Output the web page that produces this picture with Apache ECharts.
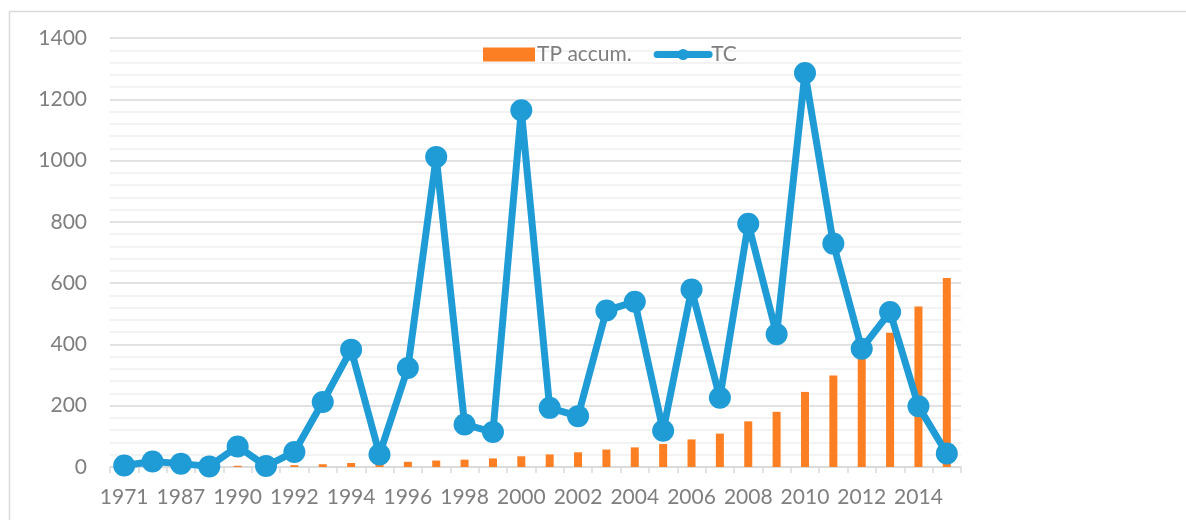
<!DOCTYPE html>
<html>
<head>
<meta charset="utf-8">
<script src="https://cdn.jsdelivr.net/npm/echarts@6/dist/echarts.min.js"></script>
<style>
html,body{margin:0;padding:0;background:#fff;}
#chart{width:1186px;height:520px;}
</style>
</head>
<body>
<div id="chart"></div>
<script>
var years = ['1971','1986','1987','1989','1990','1991','1992','1993','1994','1995','1996','1997','1998','1999','2000','2001','2002','2003','2004','2005','2006','2007','2008','2009','2010','2011','2012','2013','2014','2015'];
var tpAccum = [1,2,3,3,4,5,6,9,13,15,17,21,24,28,35,41,48,57,64,75,90,109,149,180,245,299,370,438,524,617];
var tc = [5,18,11,2,67,3,49,212,383,41,323,1012,139,114,1164,193,166,511,539,118,579,226,794,433,1286,729,386,506,198,44];
var yTicks = {min:0, max:1400, interval:200};

var FONT = 'Lato';
var chart = echarts.init(document.getElementById('chart'));
chart.setOption({
  animation:false,
  backgroundColor:'#ffffff',
  graphic:[{
    type:'rect', silent:true, z:-10,
    shape:{x:9.5,y:11.5,width:1300,height:700},
    style:{fill:'none',stroke:'#d9d9d9',lineWidth:1.5}
  }],
  grid:{left:110,right:225,top:38,bottom:53},
  legend:{
    left:478, top:39,
    itemWidth:52, itemHeight:14, itemGap:22,
    lineStyle:{width:7, cap:'round'},
    textStyle:{color:'#7f7f7f',fontSize:21,fontFamily:FONT,padding:[0,0,0,-3]},
    data:[{name:'TP accum.',icon:'rect'},{name:'TC'}]
  },
  xAxis:{
    type:'category', data:years, boundaryGap:true,
    axisLine:{lineStyle:{color:'#d9d9d9',width:1.5}},
    axisTick:{show:true,interval:0,length:6,lineStyle:{color:'#d9d9d9',width:1.5}},
    axisLabel:{interval:1,color:'#7f7f7f',fontSize:21,fontFamily:FONT,margin:20}
  },
  yAxis:{
    type:'value', min:yTicks.min, max:yTicks.max, interval:yTicks.interval,
    axisLine:{show:false}, axisTick:{show:false},
    axisLabel:{color:'#7f7f7f',fontSize:21,fontFamily:FONT,margin:23,
      formatter:function(v){return String(v);}},
    splitLine:{lineStyle:{color:'#d9d9d9',width:1.5}},
    minorTick:{show:false,splitNumber:5},
    minorSplitLine:{show:true,lineStyle:{color:'#efefef',width:1.5}}
  },
  series:[
    {name:'TP accum.', type:'bar', data:tpAccum, barWidth:8,
     itemStyle:{color:'#fd7f23'}, z:2},
    {name:'TC', type:'line', data:tc, symbol:'circle', symbolSize:22, showAllSymbol:true,
     lineStyle:{color:'#1f9bd6',width:7}, itemStyle:{color:'#1f9bd6'}, z:3}
  ]
});
</script>
</body>
</html>
